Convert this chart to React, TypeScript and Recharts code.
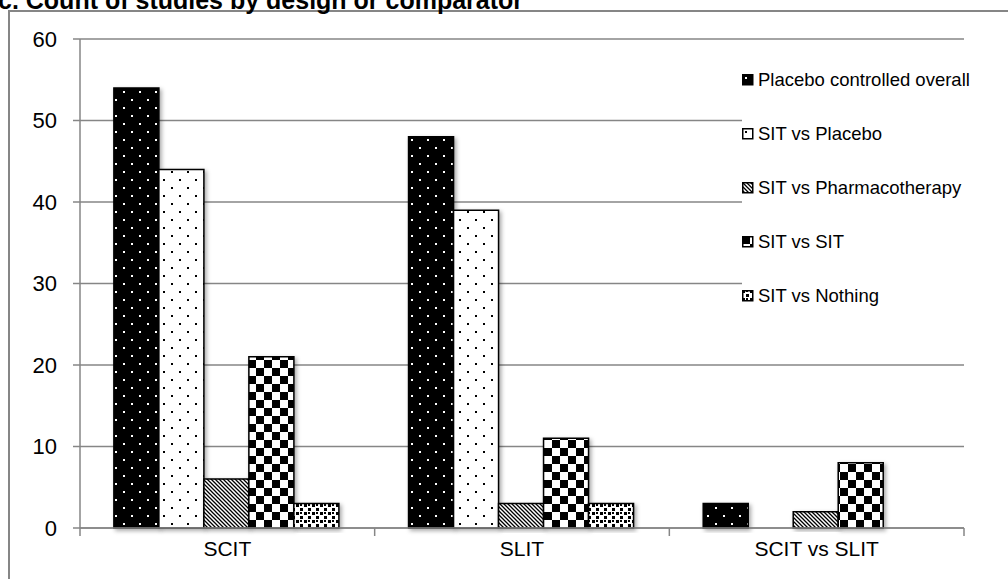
import React from 'react';
import { BarChart, Bar, XAxis, YAxis, CartesianGrid, Legend } from 'recharts';

const categories = ['SCIT', 'SLIT', 'SCIT vs SLIT'];
const placeboOverall = [54, 48, 3];
const sitVsPlacebo = [44, 39, 0];
const sitVsPharmaco = [6, 3, 2];
const sitVsSit = [21, 11, 8];
const sitVsNothing = [3, 3, 0];
const yTicks = [0, 10, 20, 30, 40, 50, 60];

const seriesNames = [
  'Placebo controlled overall',
  'SIT vs Placebo',
  'SIT vs Pharmacotherapy',
  'SIT vs SIT',
  'SIT vs Nothing',
];
const seriesKeys = ['a', 'b', 'c', 'd', 'e'];
const seriesFills = ['url(#pDarkDots)', 'url(#pLightDots)', 'url(#pHatch)', 'url(#pChecker)', 'url(#pSmallChecker)'];

const data = categories.map((name, i) => ({
  name,
  a: placeboOverall[i],
  b: sitVsPlacebo[i],
  c: sitVsPharmaco[i],
  d: sitVsSit[i],
  e: sitVsNothing[i],
}));

const FONT = '"Liberation Sans", Arial, sans-serif';
const GRID = '#868686';

const Patterns = () => (
  <svg width={0} height={0} style={{ position: 'absolute' }}>
    <defs>
      <pattern id="pDarkDots" width={16} height={16} patternUnits="userSpaceOnUse">
        <rect width={16} height={16} fill="#000" />
        <rect x={3} y={3} width={2} height={2} fill="#fff" />
        <rect x={11} y={11} width={2} height={2} fill="#fff" />
      </pattern>
      <pattern id="pLightDots" width={16} height={16} patternUnits="userSpaceOnUse">
        <rect width={16} height={16} fill="#fff" />
        <rect x={3} y={3} width={2} height={2} fill="#000" />
        <rect x={11} y={11} width={2} height={2} fill="#000" />
      </pattern>
      <pattern id="pHatch" width={4} height={4} patternUnits="userSpaceOnUse">
        <rect width={4} height={4} fill="#fff" />
        <path d="M-1,-1 L5,5 M-1,3 L1,5 M3,-1 L5,1" stroke="#000" strokeWidth={1.3} />
      </pattern>
      <pattern id="pChecker" width={16} height={16} patternUnits="userSpaceOnUse">
        <rect width={16} height={16} fill="#fff" />
        <rect x={0} y={0} width={8} height={8} fill="#000" />
        <rect x={8} y={8} width={8} height={8} fill="#000" />
      </pattern>
      <pattern id="pSmallChecker" width={8} height={8} patternUnits="userSpaceOnUse">
        <rect width={8} height={8} fill="#fff" />
        <rect x={0} y={0} width={3} height={3} fill="#000" />
        <rect x={4} y={4} width={3} height={3} fill="#000" />
        <rect x={4} y={0} width={2} height={2} fill="#000" />
      </pattern>
      <filter id="shadow" x="-20%" y="-20%" width="140%" height="140%">
        <feDropShadow dx={2} dy={2} stdDeviation={2} floodColor="#000" floodOpacity={0.35} />
      </filter>
    </defs>
  </svg>
);

const LegendContent = () => (
  <div style={{ fontFamily: FONT, fontSize: 18.5, color: '#000', background: '#fff', whiteSpace: 'nowrap' }}>
    {seriesNames.map((n, i) => (
      <div key={n} style={{ height: 54, display: 'flex', alignItems: 'center' }}>
        <svg width={12} height={12} style={{ marginRight: 4 }}>
          <rect x={0.75} y={0.75} width={10} height={10} fill={seriesFills[i]} stroke="#000" strokeWidth={1.5} />
        </svg>
        <span>{n}</span>
      </div>
    ))}
  </div>
);

const CategoryTick = (props: any) => {
  const { x, y, payload, width, visibleTicksCount, index } = props;
  const band = width / visibleTicksCount;
  const half = band / 2;
  return (
    <g>
      {index === 0 && <line x1={x - half} x2={x - half} y1={y} y2={y + 8} stroke={GRID} strokeWidth={1.5} />}
      <line x1={x + half} x2={x + half} y1={y} y2={y + 8} stroke={GRID} strokeWidth={1.5} />
      <text x={x} y={y + 28} textAnchor="middle" fill="#000" fontSize={21} fontFamily={FONT}>
        {payload.value}
      </text>
    </g>
  );
};

export default function App() {
  return (
    <div style={{ position: 'absolute', left: 0, top: 0, width: 1008, height: 579, overflow: 'hidden', background: '#fff' }}>
      <Patterns />
      <div
        style={{
          position: 'absolute',
          left: 8,
          top: 10,
          width: 1100,
          height: 700,
          borderLeft: `2px solid ${GRID}`,
          borderTop: `2px solid ${GRID}`,
        }}
      />
      <div
        style={{
          position: 'absolute',
          left: -2,
          top: -14,
          fontFamily: FONT,
          fontWeight: 'bold',
          fontSize: 25,
          whiteSpace: 'nowrap',
          color: '#000',
        }}
      >
        c. Count of studies by design or comparator
      </div>
      <div style={{ position: 'absolute', left: 0, top: 0 }}>
        <BarChart
          width={1008}
          height={579}
          data={data}
          margin={{ top: 39, right: 44, bottom: 0, left: 0 }}
          barCategoryGap="11.5%"
          barGap={0}
        >
          <CartesianGrid vertical={false} stroke={GRID} strokeWidth={1.5} />
          <YAxis
            domain={[0, 60]}
            ticks={yTicks}
            width={80}
            tickSize={7}
            tickMargin={16}
            stroke={GRID}
            strokeWidth={1.5}
            tick={{ fill: '#000', fontSize: 22, fontFamily: FONT }}
          />
          <XAxis
            dataKey="name"
            height={51}
            tickLine={false}
            tickSize={0}
            tickMargin={0}
            stroke={GRID}
            strokeWidth={1.5}
            interval={0}
            tick={<CategoryTick />}
          />
          <Legend
            layout="vertical"
            align="center"
            verticalAlign="middle"
            content={<LegendContent />}
            wrapperStyle={{ position: 'absolute', left: 742, top: 53, width: 240 }}
          />
          {seriesKeys.map((k, i) => (
            <Bar
              key={k}
              dataKey={k}
              name={seriesNames[i]}
              fill={seriesFills[i]}
              stroke="#000"
              strokeWidth={1.5}
              filter="url(#shadow)"
              isAnimationActive={false}
            />
          ))}
        </BarChart>
      </div>
    </div>
  );
}
